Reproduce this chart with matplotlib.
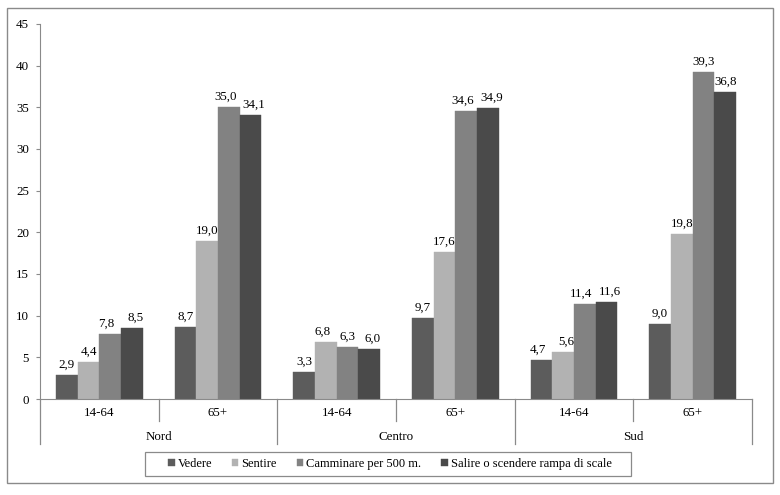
import matplotlib
matplotlib.use("Agg")
import matplotlib.pyplot as plt
from matplotlib.patches import Rectangle
import numpy as np

regions = ["Nord", "Centro", "Sud"]
ages = ["14-64", "65+"]
series = ["Vedere", "Sentire", "Camminare per 500 m.", "Salire o scendere rampa di scale"]
vedere = [2.9, 8.7, 3.3, 9.7, 4.7, 9.0]
sentire = [4.4, 19.0, 6.8, 17.6, 5.6, 19.8]
camminare = [7.8, 35.0, 6.3, 34.6, 11.4, 39.3]
salire = [8.5, 34.1, 6.0, 34.9, 11.6, 36.8]
yticks = [0, 5, 10, 15, 20, 25, 30, 35, 40, 45]

colors = ["#5c5c5c", "#b2b2b2", "#828282", "#4a4a4a"]
values = [vedere, sentire, camminare, salire]
FS = 9.4
GRAY = "#8a8a8a"

plt.rcParams['font.family'] = ['Liberation Serif', 'DejaVu Serif']
fig = plt.figure(figsize=(7.8, 4.95), dpi=100)
ax = fig.add_axes([40/780, 1-399/495, (752-40)/780, (399-24)/495])

n = len(vedere)
x = np.arange(n)
bw = 0.183
handles = []
for i, (vals, c, name) in enumerate(zip(values, colors, series)):
    pos = x + (i - 1.5) * bw
    h = ax.bar(pos, vals, width=bw, color=c, label=name, edgecolor=c, linewidth=0.3)
    handles.append(h)

# value labels, nudged apart when neighbouring bars are of similar height
for g in range(n):
    vals = [v[g] for v in values]
    shifts = [0.0] * 4
    for i in range(3):
        if abs(vals[i] - vals[i + 1]) < 1.5:
            shifts[i] -= 2.5
            shifts[i + 1] += 2.5
    for i in range(4):
        p = g + (i - 1.5) * bw
        ax.annotate(f"{vals[i]:.1f}".replace(".", ","), (p, vals[i]),
                    xytext=(shifts[i], 3), textcoords="offset points",
                    ha="center", va="bottom", fontsize=FS)

ax.set_xlim(-0.5, n - 0.5)
ax.set_ylim(0, 45)
ax.set_yticks(yticks)
ax.set_yticklabels([str(t) for t in yticks], fontsize=FS)
ax.set_xticks([])
for s in ["top", "right"]:
    ax.spines[s].set_visible(False)
ax.spines["left"].set_color(GRAY)
ax.spines["bottom"].set_color(GRAY)
ax.tick_params(axis="y", length=3, color=GRAY, pad=5)

# multi-level x axis
trans = ax.get_xaxis_transform()
ax_h = 375.0
def yfrac(px):
    return -px / ax_h
for b in range(n + 1):
    xb = b - 0.5
    y2 = yfrac(45) if b % 2 == 0 else yfrac(22)
    ax.plot([xb, xb], [0, y2], transform=trans, color=GRAY, lw=0.9, clip_on=False)
for i in range(n):
    ax.text(i, yfrac(14), ages[i % 2], transform=trans, ha="center", va="center", fontsize=FS)
for r, name in enumerate(regions):
    ax.text(2 * r + 0.5, yfrac(38), name, transform=trans, ha="center", va="center", fontsize=FS)

leg = fig.legend(handles=handles, labels=series, loc="center",
                 bbox_to_anchor=(390/780, 1-464/495), ncol=4, fontsize=9,
                 frameon=False, handlelength=0.5, handleheight=0.5,
                 handletextpad=0.25, columnspacing=1.6, borderpad=0.2)

fig.patches.append(Rectangle((145/780, 1-476/495), 486/780, 24/495, transform=fig.transFigure,
                             fill=False, edgecolor=GRAY, lw=0.9))
fig.patches.append(Rectangle((7/780, 1-483/495), 766/780, 475/495, transform=fig.transFigure,
                             fill=False, edgecolor=GRAY, lw=1.0))

fig.savefig("out.png", dpi=100)
